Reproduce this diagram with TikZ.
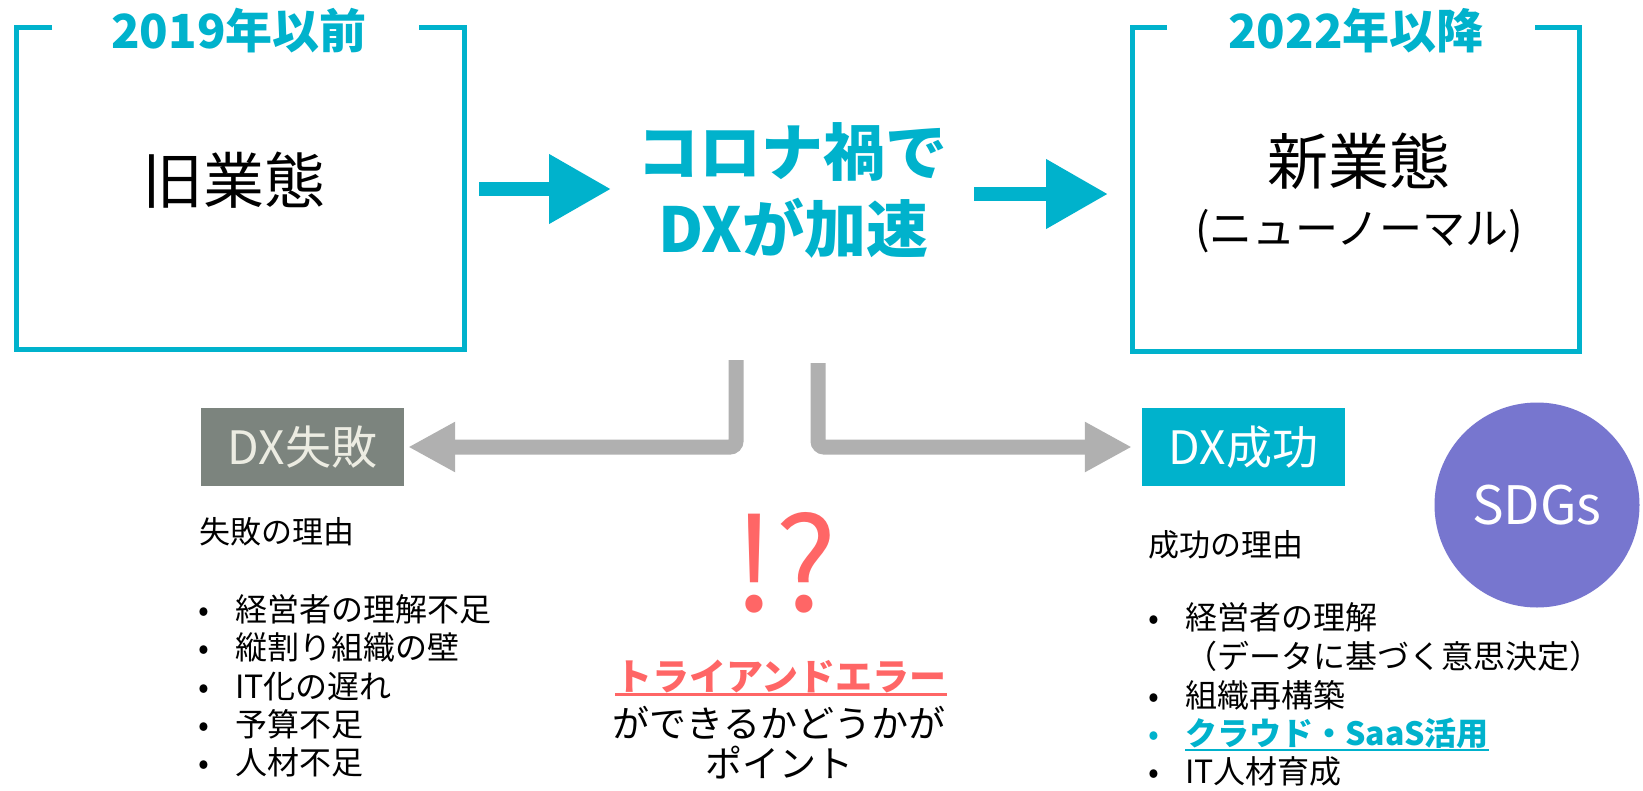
\documentclass[tikz,border=0pt]{standalone}
\usepackage{fontspec}
\setmainfont{Noto Sans CJK JP}
\usetikzlibrary{arrows.meta}
\definecolor{dxcyan}{RGB}{0,178,204}
\definecolor{arrgray}{RGB}{176,176,176}
\definecolor{failgray}{RGB}{124,132,126}
\definecolor{failtext}{RGB}{236,236,226}
\definecolor{trred}{RGB}{255,102,102}
\definecolor{sdgpurple}{RGB}{119,118,207}
\newcommand{\fsz}[1]{\fontsize{#1pt}{#1pt}\selectfont}
\begin{document}
\begin{tikzpicture}[x=1pt,y=-1pt,
  yearframe/.style={draw=dxcyan,line width=5pt},
  yeartitle/.style={font={\fsz{47}\bfseries},text=dxcyan,inner sep=0},
  bigtext/.style={font={\fsz{61}},inner sep=0},
  corona/.style={font={\fsz{62}\bfseries},text=dxcyan,inner sep=0},
  cyanarrow/.style={draw=dxcyan,line width=14pt,-{Triangle[length=62pt 0 0,width=66pt 0 0]}},
  grayarrow/.style={draw=arrgray,line width=15pt,rounded corners=6pt,-{Triangle[length=47pt 0 0,width=47pt 0 0]}},
  resultbox/.style={minimum width=203pt,minimum height=78pt,inner sep=0,font={\fsz{46}}},
  listhead/.style={font={\fsz{31}},inner sep=0,anchor=base west},
  listitem/.style={font={\fsz{32}},inner sep=0,anchor=base west},
  bulletmark/.style={font={\fsz{32}},inner sep=0,anchor=base},
]
\useasboundingbox (0,0) rectangle (1643,790);
\fill[white] (0,0) rectangle (1643,790);

% frames
\draw[yearframe] (52,27) -- (16,27) -- (16,349) -- (464,349) -- (464,27) -- (419,27);
\draw[yearframe] (1167,27) -- (1132,27) -- (1132,351) -- (1579,351) -- (1579,27) -- (1535,27);

\node[yeartitle] (t1) at (239,31) {2019年以前};
\node[bigtext] (old) at (234,180) {旧業態};
\node[yeartitle] (t2) at (1356,31) {2022年以降};
\node[bigtext] (new) at (1359,161) {新業態};
\node[font={\fsz{43}},inner sep=0] (newsub) at (1359,231) {(ニューノーマル)};

\node[corona] (c1) at (792,152) {コロナ禍で};
\node[corona] (c2) at (793,228) {DXが加速};

% cyan arrows
\coordinate (a1s) at (479,189);
\coordinate (a1e) at (611,189);
\coordinate (a2s) at (974,194);
\coordinate (a2e) at (1108,194);
\draw[cyanarrow] (a1s) -- (a1e);
\draw[cyanarrow] (a2s) -- (a2e);

% result boxes and gray arrows
\node[resultbox,fill=failgray,text=failtext] (fail) at (302.5,447) {DX失敗};
\node[resultbox,fill=dxcyan,text=white] (succ) at (1243.5,447) {DX成功};
\coordinate (g1) at (736,360);
\coordinate (g2) at (818,363);
\draw[grayarrow] (g1) |- ([xshift=4pt]fail.east);
\draw[grayarrow] (g2) |- ([xshift=-10pt]succ.west);

% SDGs
\node[circle,fill=sdgpurple,minimum size=205pt,inner sep=0,text=white,font={\fsz{53}}] (sdg) at (1537,505) {SDGs};

% center
\node[font={\fsz{130}},text=trred,inner sep=0] (ex) at (785,563) {!?};
\node[font={\fsz{37}\bfseries},text=trred,inner sep=0] (tr) at (781,676) {トライアンドエラー};
\draw[trred,line width=2.5pt] ([yshift=-2pt]tr.south west) -- ([yshift=-2pt]tr.south east);
\node[font={\fsz{37}},inner sep=0] (pt1) at (779,723) {ができるかどうかが};
\node[font={\fsz{37}},inner sep=0] (pt2) at (779,763) {ポイント};

% left list
\node[listhead] (fh) at (199,543) {失敗の理由};
\node[bulletmark] (fb1) at (204,621) {•};
\node[listitem] (fi1) at (235,621) {経営者の理解不足};
\node[bulletmark] (fb2) at (204,659) {•};
\node[listitem] (fi2) at (235,659) {縦割り組織の壁};
\node[bulletmark] (fb3) at (204,698) {•};
\node[listitem] (fi3) at (235,698) {IT化の遅れ};
\node[bulletmark] (fb4) at (204,736) {•};
\node[listitem] (fi4) at (235,736) {予算不足};
\node[bulletmark] (fb5) at (204,774) {•};
\node[listitem] (fi5) at (235,774) {人材不足};

% right list
\node[listhead] (sh) at (1148,556) {成功の理由};
\node[bulletmark] (sb1) at (1154,629) {•};
\node[listitem] (si1) at (1185,629) {経営者の理解};
\node[listitem] (si2) at (1185,668) {（データに基づく意思決定）};
\node[bulletmark] (sb3) at (1154,707) {•};
\node[listitem] (si3) at (1185,707) {組織再構築};
\node[bulletmark,text=dxcyan] (sb4) at (1154,745) {•};
\node[listitem,text=dxcyan,font={\fsz{32}\bfseries}] (si4) at (1185,745) {クラウド・SaaS活用};
\draw[dxcyan,line width=2pt] ([yshift=-2pt]si4.south west) -- ([yshift=-2pt]si4.south east);
\node[bulletmark] (sb5) at (1154,783) {•};
\node[listitem] (si5) at (1185,783) {IT人材育成};
\end{tikzpicture}
\end{document}
